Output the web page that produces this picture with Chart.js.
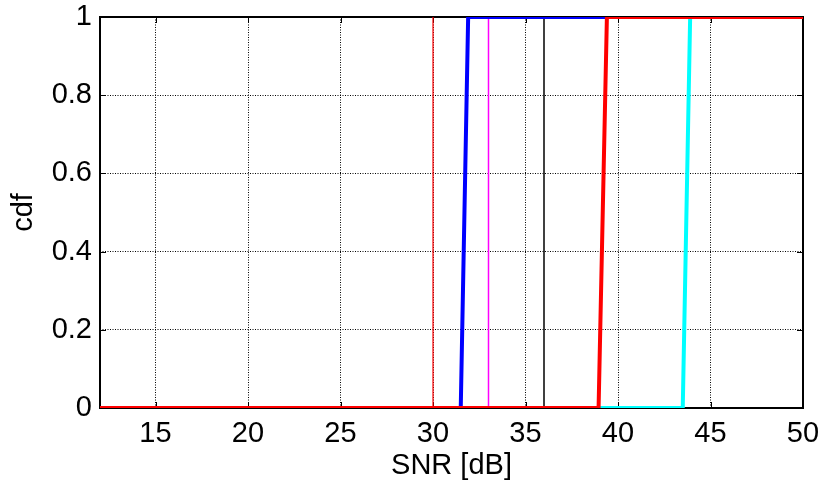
<!DOCTYPE html>
<html>
<head>
<meta charset="utf-8">
<script src="https://cdn.jsdelivr.net/npm/chart.js@4/dist/chart.umd.min.js"></script>
<style>
  html, body { margin: 0; padding: 0; background: #fff; }
  #wrap { width: 829px; height: 483px; }
</style>
</head>
<body>
<div id="wrap"><canvas id="cdfChart"></canvas></div>
<script>
// tick labels
const xTicks = [15, 20, 25, 30, 35, 40, 45, 50];
const yTicks = [0, 0.2, 0.4, 0.6, 0.8, 1];

// step curves
const snrRed = [12, 38.95, 39.4, 50];
const cdfRed = [0, 0, 1, 1];
const snrCyan = [12, 43.5, 43.9, 50];
const cdfCyan = [0, 0, 1, 1];
const snrBlue = [12, 31.5, 31.9, 50];
const cdfBlue = [0, 0, 1, 1];

// thin vertical reference lines
const snrRefRed = [30, 30];
const snrRefMagenta = [33, 33];
const snrRefBlack = [36, 36];
const cdfRef = [0, 1];

function toPoints(xs, ys) {
  return xs.map((x, i) => ({ x: x, y: ys[i] }));
}

const font = { family: '"Liberation Sans", Arial, sans-serif', size: 29, lineHeight: 1 };

// box around the axes plus MATLAB-style inward ticks
const boxPlugin = {
  id: 'box',
  beforeDatasetsDraw(chart) {
    const { ctx, chartArea: a, scales } = chart;
    ctx.save();
    ctx.strokeStyle = '#000';
    ctx.lineWidth = 1;
    const tl = 6;
    ctx.beginPath();
    for (const v of xTicks) {
      const px = Math.round(scales.x.getPixelForValue(v)) + 0.5;
      ctx.moveTo(px, a.bottom); ctx.lineTo(px, a.bottom - tl);
      ctx.moveTo(px, a.top); ctx.lineTo(px, a.top + tl);
    }
    for (const v of yTicks) {
      const py = Math.round(scales.y.getPixelForValue(v)) + 0.5;
      ctx.moveTo(a.left, py); ctx.lineTo(a.left + tl, py);
      ctx.moveTo(a.right, py); ctx.lineTo(a.right - tl, py);
    }
    ctx.stroke();
    ctx.lineWidth = 2;
    ctx.strokeRect(a.left, a.top, a.right - a.left, a.bottom - a.top);
    ctx.restore();
  }
};

const ctx = document.getElementById('cdfChart').getContext('2d');
const myChart = new Chart(ctx, {
  type: 'scatter',
  data: {
    datasets: [
      { data: toPoints(snrRed, cdfRed), borderColor: '#ff0000', borderWidth: 4 },
      { data: toPoints(snrCyan, cdfCyan), borderColor: '#00ffff', borderWidth: 4 },
      { data: toPoints(snrBlue, cdfBlue), borderColor: '#0000ff', borderWidth: 4 },
      { data: toPoints(snrRefRed, cdfRef), borderColor: '#ff0000', borderWidth: 1.2 },
      { data: toPoints(snrRefMagenta, cdfRef), borderColor: '#ff00ff', borderWidth: 1.5 },
      { data: toPoints(snrRefBlack, cdfRef), borderColor: '#000000', borderWidth: 1.5 }
    ].map(d => Object.assign(d, { showLine: true, pointRadius: 0, tension: 0, fill: false }))
  },
  options: {
    responsive: true,
    maintainAspectRatio: false,
    animation: false,
    layout: { padding: { left: 0, right: 26, top: 17, bottom: 0 } },
    plugins: { legend: { display: false }, tooltip: { enabled: false } },
    scales: {
      x: {
        type: 'linear',
        min: 12,
        max: 50,
        afterBuildTicks: s => { s.ticks = xTicks.map(v => ({ value: v })); },
        afterFit: s => { s.height = 75; s.paddingLeft = 0; s.paddingRight = 0; },
        grid: { color: '#000', lineWidth: 1, drawTicks: false },
        border: { display: false, dash: [1, 1.5] },
        ticks: { color: '#000', font: font, padding: 11, maxRotation: 0 },
        title: { display: true, text: 'SNR [dB]', color: '#000', font: font, padding: { top: 0, bottom: 3 } }
      },
      y: {
        min: 0,
        max: 1,
        afterBuildTicks: s => { s.ticks = yTicks.map(v => ({ value: v })); },
        afterFit: s => { s.width = 100; s.paddingTop = 0; s.paddingBottom = 0; },
        grid: { color: '#000', lineWidth: 1, drawTicks: false },
        border: { display: false, dash: [1, 1.5] },
        ticks: { color: '#000', font: font, padding: 8, callback: v => String(v) },
        title: { display: true, text: 'cdf', color: '#000', font: font, padding: { top: 9, bottom: 0 } }
      }
    }
  },
  plugins: [boxPlugin]
});
</script>
</body>
</html>
